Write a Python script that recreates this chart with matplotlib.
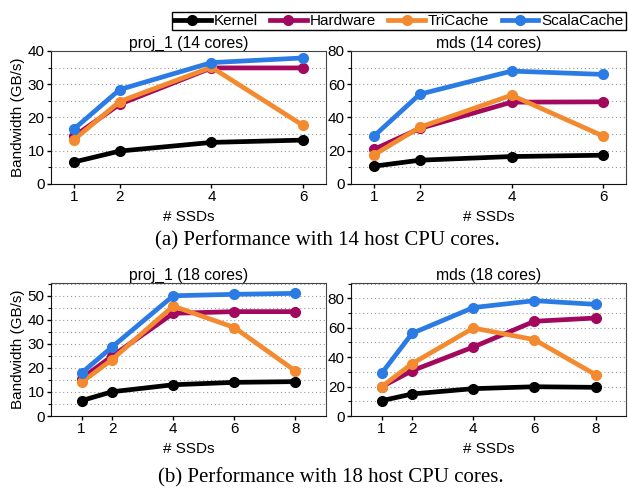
import matplotlib

matplotlib.use("Agg")
import matplotlib.pyplot as plt
from matplotlib.ticker import MultipleLocator

plt.rcParams["font.family"] = ["Liberation Sans", "DejaVu Sans"]

series = ["Kernel", "Hardware", "TriCache", "ScalaCache"]
colors = ["#000000", "#a2095e", "#f48a2f", "#2a7be4"]

ssds_14 = [1, 2, 4, 6]
ssds_18 = [1, 2, 4, 6, 8]

proj1_14 = {
    "Kernel": [6.6, 9.9, 12.5, 13.2],
    "Hardware": [14.3, 24.0, 34.9, 34.9],
    "TriCache": [13.3, 24.8, 35.1, 17.6],
    "ScalaCache": [16.5, 28.4, 36.5, 37.9],
}
mds_14 = {
    "Kernel": [10.7, 14.3, 16.5, 17.3],
    "Hardware": [20.8, 33.4, 49.2, 49.4],
    "TriCache": [17.5, 34.1, 53.4, 28.8],
    "ScalaCache": [28.8, 54.0, 67.9, 65.9],
}
proj1_18 = {
    "Kernel": [6.4, 10.1, 13.0, 14.0, 14.3],
    "Hardware": [15.6, 24.9, 42.7, 43.4, 43.4],
    "TriCache": [14.0, 23.5, 45.7, 36.8, 18.7],
    "ScalaCache": [17.9, 28.7, 50.0, 50.6, 51.0],
}
mds_18 = {
    "Kernel": [10.4, 15.0, 18.6, 19.9, 19.5],
    "Hardware": [19.9, 30.8, 46.9, 64.4, 66.6],
    "TriCache": [19.9, 35.6, 59.8, 51.9, 28.1],
    "ScalaCache": [29.0, 56.2, 73.7, 78.4, 75.9],
}

panels = [
    # (data, x, title, ylim top, major, minor, xlim, rect)
    (proj1_14, ssds_14, "proj_1 (14 cores)", 40, 10, 5, (0.5, 6.5), [0.0812, 0.6253, 0.438, 0.2709]),
    (mds_14, ssds_14, "mds (14 cores)", 80, 20, 10, (0.5, 6.5), [0.559, 0.6253, 0.438, 0.2709]),
    (proj1_18, ssds_18, "proj_1 (18 cores)", 55.3, 10, 5, (0.0, 9.0), [0.0812, 0.1527, 0.438, 0.2709]),
    (mds_18, ssds_18, "mds (18 cores)", 90.4, 20, 10, (0.0, 9.0), [0.559, 0.1527, 0.438, 0.2709]),
]

fig = plt.figure(figsize=(6.28, 4.91), dpi=100)

handles = []
for i, (data, xs, title, ytop, major, minor, xlim, rect) in enumerate(panels):
    ax = fig.add_axes(rect)
    for name, color in zip(series, colors):
        (line,) = ax.plot(
            xs,
            data[name],
            color=color,
            linewidth=3.4,
            marker="o",
            markersize=7,
            label=name,
            zorder=3,
        )
        if i == 0:
            handles.append(line)
    ax.set_xlim(*xlim)
    ax.set_ylim(0, ytop)
    ax.set_xticks(xs)
    ax.yaxis.set_major_locator(MultipleLocator(major))
    ax.yaxis.set_minor_locator(MultipleLocator(minor))
    ax.yaxis.grid(True, which="both", linestyle=(0, (1, 2.5)), color="#999999", linewidth=0.8)
    ax.set_axisbelow(True)
    ax.tick_params(axis="both", which="major", labelsize=11, length=3, width=1, pad=1.5)
    ax.tick_params(axis="y", which="minor", length=2, width=0.8)
    for side in ["top", "right"]:
        ax.spines[side].set_color("#444444")
    for side in ["left", "bottom"]:
        ax.spines[side].set_color("#111111")
    ax.set_title(title, fontsize=11.3, pad=2)
    ax.set_xlabel("# SSDs", fontsize=11, labelpad=4)
    if i % 2 == 0:
        ax.set_ylabel("Bandwidth (GB/s)", fontsize=11, labelpad=2)

fig.legend(
    handles=handles,
    loc="center",
    bbox_to_anchor=(0.635, 0.957),
    ncol=4,
    fontsize=11,
    frameon=True,
    fancybox=False,
    edgecolor="black",
    framealpha=1,
    handlelength=2.4,
    handletextpad=0.2,
    columnspacing=0.8,
    borderpad=0.15,
    borderaxespad=0,
)

serif = ["Liberation Serif", "DejaVu Serif"]
fig.text(0.522, 1 - 241 / 491, "(a) Performance with 14 host CPU cores.",
         ha="center", va="center", fontsize=15, family=serif)
fig.text(0.527, 1 - 478 / 491, "(b) Performance with 18 host CPU cores.",
         ha="center", va="center", fontsize=15, family=serif)

fig.savefig("out.png", dpi=100)
